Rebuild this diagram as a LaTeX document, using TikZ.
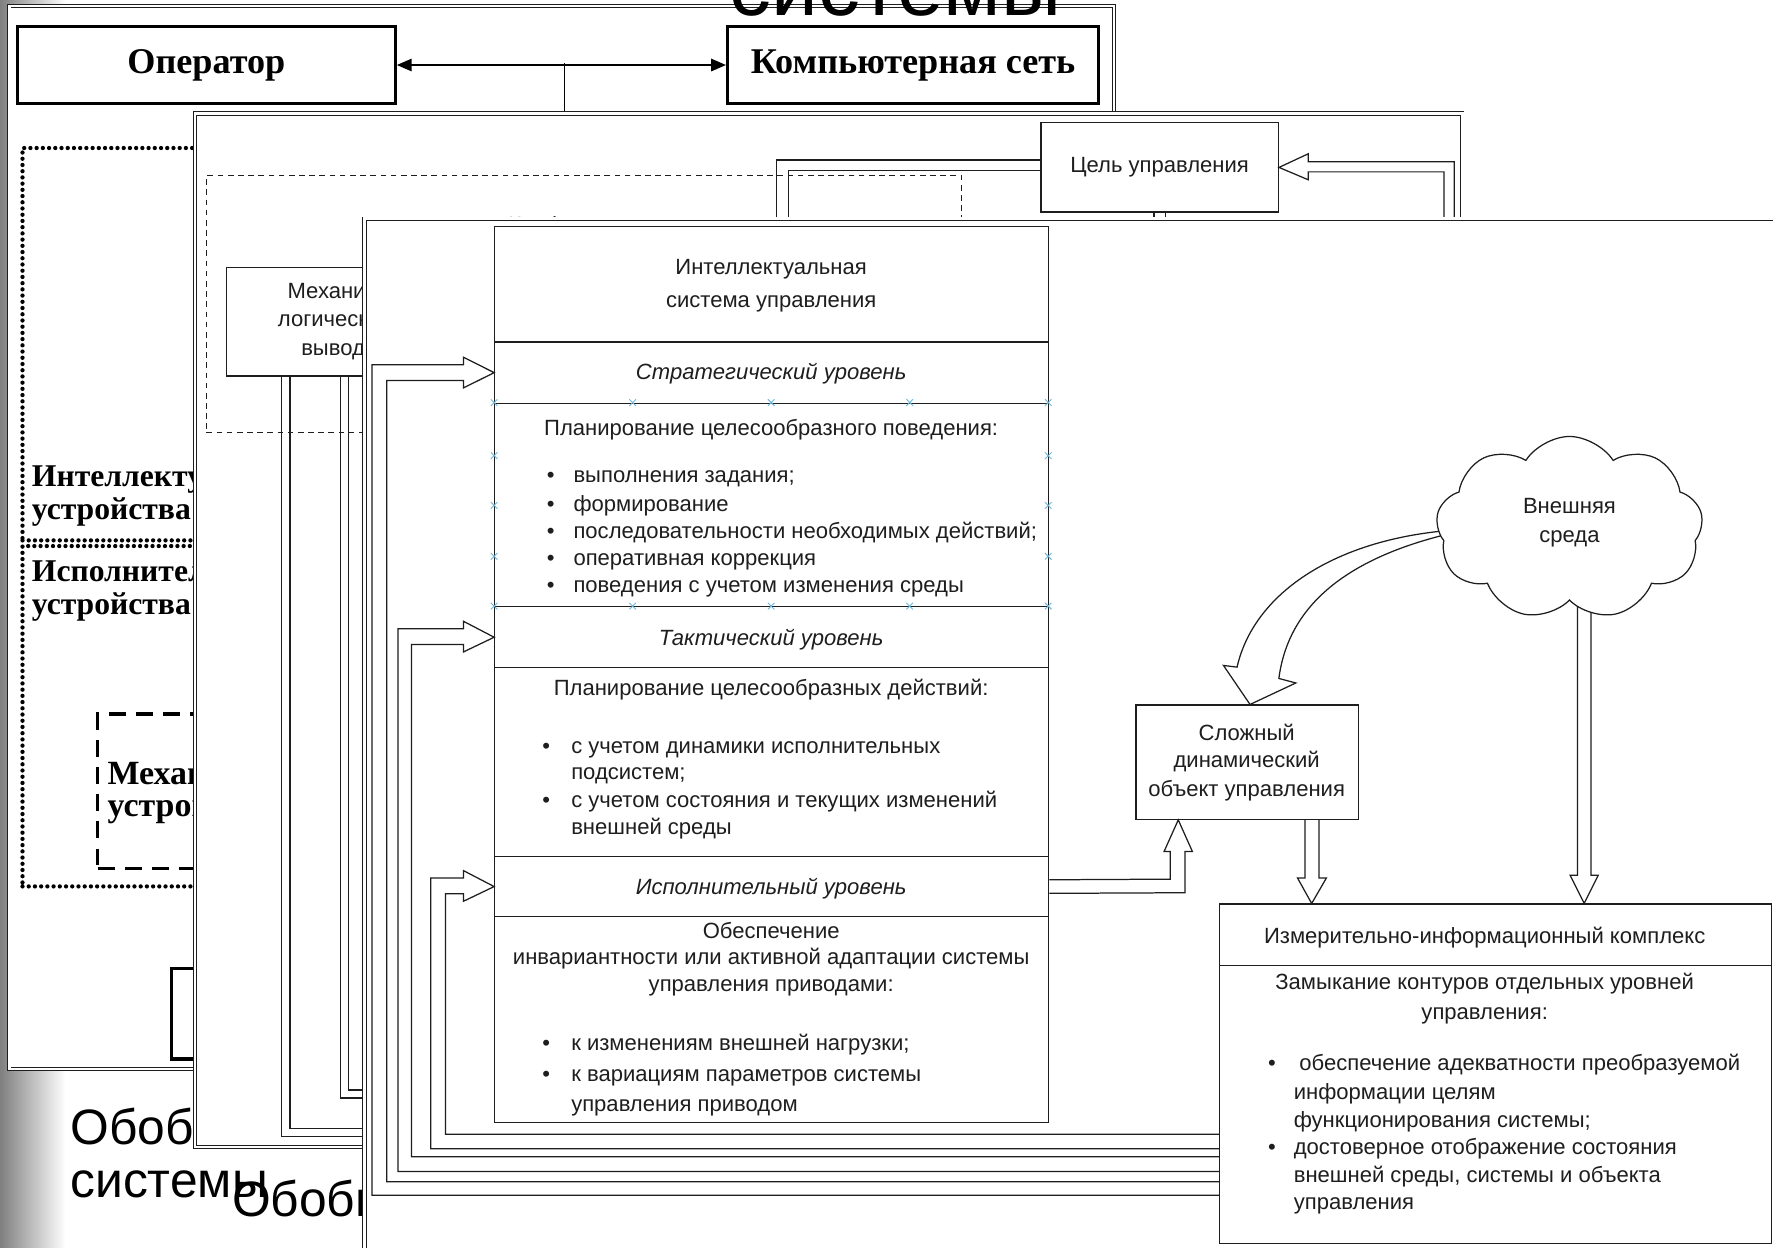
\documentclass[tikz,border=0pt]{standalone}
\usepackage{fontspec}
\setmainfont{Liberation Sans}
\newfontfamily\tnr{Liberation Serif}
\usetikzlibrary{arrows.meta,shapes.symbols,shapes.misc,calc}
\definecolor{ink}{HTML}{1E1E1E}
\definecolor{handle}{HTML}{6FB7DA}
\newcommand\bitem[5]{\node[bulletdot] (#1d) at (#2,#4) {•}; \node[txtl] (#1) at (#3,#4) {#5};}
\begin{document}
\begin{tikzpicture}[x=1pt,y=-1pt,
  slideframe/.style={draw=ink, line width=0.7pt, double=white, double distance=2.2pt, fill=white, inner sep=0, anchor=north west},
  box/.style={draw=ink, line width=1.1pt, fill=white, inner sep=0, anchor=north west},
  thickbox/.style={draw=black, line width=3pt, fill=white, inner sep=0, anchor=north west},
  dotbox/.style={draw=black, line width=3.8pt, dash pattern=on 0pt off 5.5pt, line cap=round, inner sep=0, anchor=north west},
  dashbox/.style={draw=black, line width=2.8pt, dash pattern=on 15pt off 9pt, inner sep=0, anchor=north west},
  thindash/.style={draw=ink, line width=1pt, dash pattern=on 5pt off 4pt, inner sep=0, anchor=north west},
  conn/.style={draw=ink, line width=1.1pt, line join=miter},
  txt/.style={inner sep=0, text=ink, font=\fontsize{19.5}{24}\selectfont, text height=14pt, text depth=4pt},
  txtl/.style={txt, anchor=west},
  txti/.style={txt, font=\fontsize{19.5}{24}\selectfont\itshape},
  bulletdot/.style={txt, anchor=center},
  sbold/.style={inner sep=0, text=black, anchor=base west, font=\tnr\bfseries\fontsize{28}{30}\selectfont},
  capt/.style={inner sep=0, text=black, anchor=base west, font=\fontsize{44}{50}\selectfont},
  hm/.style={cross out, draw=handle, line width=0.8pt, minimum size=5pt, inner sep=0},
]
\useasboundingbox (0,0) rectangle (1568,1103);
\shade[left color=black!50, right color=white] (0,0) rectangle (58,1103);

% ================= slide 1 =================
\node[slideframe, minimum width=977pt, minimum height=940pt] (s1) at (8,5) {};
\node[inner sep=0, anchor=base west, text=black, font=\fontsize{74}{80}\selectfont] (s1title) at (645,14) {системы};
\node[thickbox, minimum width=334pt, minimum height=68pt, font=\tnr\bfseries\fontsize{32}{34}\selectfont] (op) at (14,22) {Оператор};
\node[thickbox, minimum width=328pt, minimum height=68pt, font=\tnr\bfseries\fontsize{32}{34}\selectfont] (net) at (642,22) {Компьютерная сеть};
\draw[line width=1.1pt, {Triangle[length=13pt,width=11pt]}-{Triangle[length=13pt,width=11pt]}] (op.east) -- (net.west);
\coordinate (j1) at (499,56);
\coordinate (j2) at (499,110);
\draw[line width=1pt] (j1) -- (j2);
\node[dotbox, minimum width=600pt, minimum height=347pt] (intel) at (18,129) {};
\node[dotbox, minimum width=600pt, minimum height=301pt] (execd) at (18,481) {};
\node[sbold] (it1) at (28,430) {Интеллектуальные};
\node[sbold] (it2) at (28,459) {устройства};
\node[sbold] (ex1) at (28,514) {Исполнительные};
\node[sbold] (ex2) at (28,543) {устройства};
\node[dashbox, minimum width=400pt, minimum height=137pt] (mech) at (85,630) {};
\node[sbold, font=\tnr\bfseries\fontsize{30}{32}\selectfont] (me1) at (95,694) {Механические};
\node[sbold, font=\tnr\bfseries\fontsize{30}{32}\selectfont] (me2) at (95,722) {устройства};
\node[thickbox, minimum width=200pt, minimum height=80pt] (small) at (150,855) {};
\begin{scope}
\clip (0,900) rectangle (172,1030);
\node[capt] (c1a) at (62,1012) {Обобщенная};
\end{scope}
\node[capt] (c1b) at (62,1059) {системы};

% ================= slide 2 =================
\node[slideframe, minimum width=1121pt, minimum height=914pt] (s2) at (172,100) {};
\node[thindash, minimum width=668pt, minimum height=227pt] (cfg) at (182,155) {};
\node[txt] (cfgt) at (515,201) {Конфигурация};
\node[box, minimum width=220pt, minimum height=96pt] (mech2) at (200,236) {};
\node[txt] (m2a) at (300,259) {Механизм};
\node[txt] (m2b) at (300,284) {логического};
\node[txt] (m2c) at (300,309) {вывода};
\coordinate (e1) at (330,1005);
\coordinate (e2) at (330,998);
\coordinate (e3) at (330,971);
\coordinate (e4) at (330,964);
\draw[conn] ($(mech2.south west)+(49,0)$) |- (e1);
\draw[conn] ($(mech2.south west)+(56.5,0)$) |- (e2);
\draw[conn] ($(mech2.south west)+(101,0)$) |- (e3);
\draw[conn] ($(mech2.south west)+(108,0)$) |- (e4);
\node[box, minimum width=210pt, minimum height=79pt, text=ink, font=\fontsize{19.5}{24}\selectfont] (goal) at (920,108) {Цель управления};
\coordinate (g1) at (687,205);
\coordinate (g2) at (697,205);
\draw[conn] ($(goal.north west)+(0,33.5)$) -| (g1);
\draw[conn] ($(goal.north west)+(0,42.5)$) -| (g2);
\coordinate (g3) at (1286,205);
\coordinate (g4) at (1277,205);
\draw[conn] (g3) -- (1286,143) -- (1157,143) -- (1157,136) -- (goal.east) -- (1157,159) -- (1157,152) -- (1277,152) -- (g4);
\draw[conn] ($(goal.south)+(-5,0)$) -- ++(0,15);
\draw[conn] ($(goal.south)+(5,0)$) -- ++(0,15);
\node[capt] (c2) at (205,1076) {Обобщенная структура};

% ================= slide 3 =================
\node[slideframe, minimum width=1300pt, minimum height=1000pt] (s3) at (322,193) {};
\node[box, minimum width=490pt, minimum height=102pt] (r1) at (437,200) {};
\node[box, minimum width=490pt, minimum height=54pt] (r2) at (437,302) {};
\node[box, minimum width=490pt, minimum height=180pt] (r3) at (437,356) {};
\node[box, minimum width=490pt, minimum height=54pt] (r4) at (437,536) {};
\node[box, minimum width=490pt, minimum height=167pt] (r5) at (437,590) {};
\node[box, minimum width=490pt, minimum height=53pt] (r6) at (437,757) {};
\node[box, minimum width=490pt, minimum height=182pt] (r7) at (437,810) {};

\node[txt] (a1) at (682,238) {Интеллектуальная};
\node[txt] (a2) at (682,267) {система управления};
\node[txti] (a3) at (682,331) {Стратегический уровень};
\node[txt] (a4) at (682,380) {Планирование целесообразного поведения:};
\bitem{b1}{487}{507}{422}{выполнения задания;}
\bitem{b2}{487}{507}{447}{формирование}
\bitem{b3}{487}{507}{471}{последовательности необходимых действий;}
\bitem{b4}{487}{507}{495}{оперативная коррекция}
\bitem{b5}{487}{507}{519}{поведения с учетом изменения среды}
\node[txti] (a5) at (682,566) {Тактический уровень};
\node[txt] (a6) at (682,610) {Планирование целесообразных действий:};
\bitem{c1}{483}{505}{661}{с учетом динамики исполнительных}
\node[txtl] (c1x) at (505,684) {подсистем;};
\bitem{c2}{483}{505}{709}{с учетом состояния и текущих изменений}
\node[txtl] (c2x) at (505,733) {внешней среды};
\node[txti] (a7) at (682,786) {Исполнительный уровень};
\node[txt] (a8) at (682,825) {Обеспечение};
\node[txt] (a9) at (682,848) {инвариантности или активной адаптации системы};
\node[txt] (a10) at (682,872) {управления приводами:};
\bitem{d1}{483}{505}{924}{к изменениям внешней нагрузки;}
\bitem{d2}{483}{505}{951}{к вариациям параметров системы}
\node[txtl] (d2x) at (505,978) {управления приводом};

\foreach \hx [count=\i] in {437,559.5,682,804.5,927} {
  \node[hm] (ht\i) at (\hx,356) {};
  \node[hm] (hb\i) at (\hx,536) {};
}
\foreach \hy [count=\i] in {403,447,492} {
  \node[hm] (hl\i) at (437,\hy) {};
  \node[hm] (hr\i) at (927,\hy) {};
}

% complex object
\node[box, minimum width=197pt, minimum height=101pt] (cplx) at (1004,623) {};
\node[txt] (o1) at (1102.5,650) {Сложный};
\node[txt] (o2) at (1102.5,674) {динамический};
\node[txt] (o3) at (1102.5,699) {объект управления};

% measuring complex
\node[box, minimum width=488pt, minimum height=54pt] (iikh) at (1078,799) {};
\node[box, minimum width=488pt, minimum height=246pt] (iikb) at (1078,853) {};
\node[txt] (k1) at (1313,829) {Измерительно-информационный комплекс};
\node[txt] (k2) at (1313,870) {Замыкание контуров отдельных уровней};
\node[txt] (k3) at (1313,897) {управления:};
\bitem{k4}{1125}{1149}{942}{обеспечение адекватности преобразуемой}
\node[txtl] (k5) at (1144,967) {информации целям};
\node[txtl] (k6) at (1144,992) {функционирования системы;};
\bitem{k7}{1125}{1144}{1016}{достоверное отображение состояния}
\node[txtl] (k8) at (1144,1041) {внешней среды, системы и объекта};
\node[txtl] (k9) at (1144,1065) {управления};

% feedback hollow arrows
\draw[conn] ($(iikb.north west)+(0,204)$) -- (329,1057) -- (329,322.5) -- (410,322.5) -- (410,316) -- (r2.west) -- (410,343) -- (410,336.5) -- (342,336.5) -- (342,1045) -- ($(iikb.north west)+(0,192)$);
\draw[conn] ($(iikb.north west)+(0,183)$) -- (352,1036) -- (352,556) -- (410,556) -- (410,549.5) -- (r4.west) -- (410,576.5) -- (410,570) -- (364,570) -- (364,1023) -- ($(iikb.north west)+(0,170)$);
\draw[conn] ($(iikb.north west)+(0,163)$) -- (381,1016) -- (381,776.5) -- (410,776.5) -- (410,770) -- (r6.west) -- (410,797) -- (410,790.5) -- (394,790.5) -- (394,1003) -- ($(iikb.north west)+(0,150)$);

% exec -> object
\coordinate (cp) at ($(cplx.south west)+(38,0)$);
\draw[conn] ($(r6.east)+(0,-6)$) -- (1035,777.5) -- (1035,753) -- (1029.5,753) -- (cp) -- (1054.5,753) -- (1048,753) -- (1048,789.5) -- ($(r6.east)+(0,6)$);

% object -> measuring complex
\draw[conn] ($(cplx.south west)+(150,0)$) -- (1154,776.5) -- (1147.5,776.5) -- ($(iikh.north west)+(82,0)$) -- (1173,776.5) -- (1166.5,776.5) -- ($(cplx.south west)+(162.5,0)$);

% environment arrows
\coordinate (cs) at (1300,468);
\draw[conn] (cs) .. controls (1190,472) and (1110,520) .. (1094,590) -- (1082,588.5) -- ($(cplx.north west)+(101.5,0)$) -- (1146,604) -- (1131,600) .. controls (1140,530) and (1200,488) .. (cs);
\coordinate (ev1) at (1395,530);
\coordinate (ev2) at (1407,530);
\draw[conn] (ev1) -- (1395,774) -- (1388.5,774) -- ($(iikh.north west)+(323,0)$) -- (1413.5,774) -- (1407,774) -- (ev2);
\node[cloud, cloud puffs=9, cloud puff arc=115, cloud ignores aspect, minimum width=236pt, minimum height=162pt, draw=ink, line width=1.1pt, fill=white, inner sep=0] (env) at (1388,467) {};
\node[txt] (v1) at (1388,449) {Внешняя};
\node[txt] (v2) at (1388,475) {среда};
\end{tikzpicture}
\end{document}
